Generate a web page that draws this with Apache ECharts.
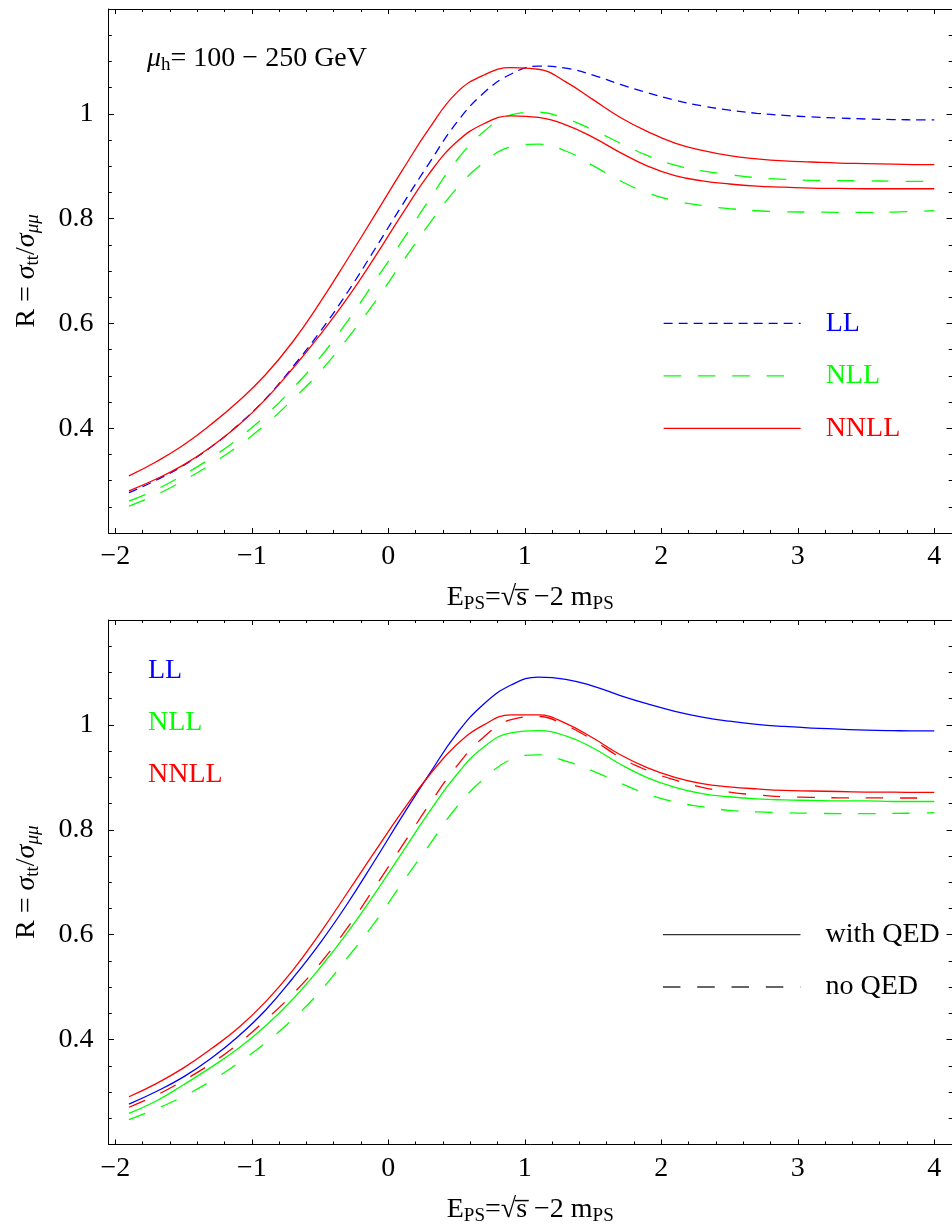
<!DOCTYPE html>
<html><head><meta charset="utf-8">
<script src="https://cdn.jsdelivr.net/npm/echarts@6/dist/echarts.min.js"></script>
<style>html,body{margin:0;padding:0;background:#fff}#c{width:952px;height:1227px}</style>
</head><body><div id="c"></div>
<script>
// ---- data ----
const energies = [-1.9,-1.7,-1.5,-1.3,-1.1,-0.9,-0.7,-0.5,-0.3,-0.1,0.1,0.3,0.5,0.7,0.9,1.1,1.3,1.5,1.7,1.9,2.1,2.3,2.5,2.7,2.9,3.1,3.3,3.5,3.7,3.9,4.0];

// LL (same curve in both panels)
const llValues = [0.277,0.301,0.329,0.364,0.406,0.456,0.517,0.584,0.659,0.741,0.825,0.906,0.983,1.040,1.076,1.091,1.087,1.074,1.056,1.040,1.026,1.015,1.007,1.001,0.997,0.994,0.992,0.990,0.989,0.9885,0.9885];

// top panel: mu_h = 100 - 250 GeV bands
const nllTopHigh  = [0.2608,0.283,0.311,0.343,0.380,0.424,0.476,0.535,0.604,0.680,0.757,0.836,0.911,0.966,0.998,1.003,0.991,0.969,0.944,0.920,0.902,0.891,0.884,0.878,0.875,0.873,0.8725,0.872,0.8715,0.871,0.871];
const nllTopLow   = [0.2512,0.273,0.300,0.331,0.366,0.407,0.455,0.508,0.571,0.640,0.716,0.790,0.857,0.907,0.937,0.942,0.929,0.901,0.872,0.849,0.834,0.825,0.819,0.815,0.813,0.8125,0.812,0.812,0.8125,0.814,0.815];
const nnllTopHigh = [0.309,0.336,0.368,0.407,0.451,0.502,0.565,0.640,0.722,0.806,0.891,0.972,1.040,1.074,1.088,1.085,1.061,1.027,0.993,0.966,0.944,0.930,0.920,0.914,0.910,0.908,0.906,0.905,0.904,0.903,0.903];
const nnllTopLow  = [0.2805,0.303,0.330,0.364,0.405,0.455,0.514,0.578,0.648,0.726,0.808,0.886,0.946,0.981,0.996,0.993,0.979,0.955,0.926,0.900,0.882,0.872,0.866,0.862,0.860,0.858,0.8575,0.857,0.857,0.857,0.857];

// bottom panel: with / without QED
const nllQed    = [0.2595,0.283,0.314,0.347,0.383,0.426,0.477,0.537,0.604,0.678,0.756,0.834,0.905,0.958,0.985,0.989,0.979,0.956,0.925,0.899,0.881,0.869,0.863,0.859,0.857,0.856,0.855,0.855,0.854,0.854,0.854];
const nllNoQed  = [0.2475,0.268,0.292,0.321,0.355,0.394,0.439,0.492,0.556,0.623,0.698,0.771,0.843,0.897,0.934,0.943,0.931,0.912,0.889,0.868,0.853,0.844,0.837,0.834,0.8325,0.8315,0.831,0.831,0.8312,0.832,0.8325];
const nnllQed   = [0.291,0.316,0.346,0.382,0.422,0.472,0.532,0.603,0.680,0.758,0.834,0.904,0.962,1.000,1.019,1.019,1.003,0.975,0.943,0.918,0.900,0.888,0.882,0.878,0.875,0.874,0.873,0.872,0.8717,0.8714,0.8714];
const nnllNoQed = [0.271,0.294,0.322,0.354,0.392,0.437,0.487,0.545,0.613,0.690,0.769,0.848,0.921,0.977,1.010,1.016,0.999,0.971,0.938,0.913,0.895,0.881,0.872,0.8665,0.863,0.862,0.861,0.861,0.8606,0.8606,0.8606];

// ticks
const xMajorTicks = [-2,-1,0,1,2,3,4];
const xMinorTicks = [-1.8,-1.6,-1.4,-1.2,-0.8,-0.6,-0.4,-0.2,0.2,0.4,0.6,0.8,1.2,1.4,1.6,1.8,2.2,2.4,2.6,2.8,3.2,3.4,3.6,3.8];
const yMajorTicks = [0.4,0.6,0.8,1];
const yMinorTicks = [0.25,0.3,0.35,0.45,0.5,0.55,0.65,0.7,0.75,0.85,0.9,0.95,1.05,1.1,1.15];
const xRange = [-2.05, 4.13];
const yRange = [0.2, 1.2];

// ---- styling ----
const FONT = "'Liberation Serif','Times New Roman',serif";
const BLUE = '#0000ff', GREEN = '#00ff00', RED = '#ff0000';
const SHORT_DASH = [9, 6];
const LONG_DASH = [17.5, 16.8];
const LW = 1.3;
const rich = {
  n:  {fontSize:28, fontFamily:FONT, color:'#000', lineHeight:32},
  i:  {fontSize:28, fontFamily:FONT, fontStyle:'italic', color:'#000', lineHeight:32},
  s:  {fontSize:19, fontFamily:FONT, color:'#000', lineHeight:16, verticalAlign:'bottom'},
  si: {fontSize:19, fontFamily:FONT, fontStyle:'italic', color:'#000', lineHeight:16, verticalAlign:'bottom'}
};
const xName = '{n|E}{s|PS}{n|=√s\u0305 −2 m}{s|PS}';
const yName = '{n|R = }{i|σ}{s|tt}{n|/}{i|σ}{si|μμ}';

const grids = [
  {left:108.5, top:9, width:847, height:524},
  {left:108.5, top:620, width:847, height:524.5}
];
const frameLine = {color:'#000', width:1};
const fmt = v => (v < 0 ? '−' + Math.abs(v) : String(v));

const xAxes = [], yAxes = [];
grids.forEach((g, gi) => {
  const baseX = {gridIndex:gi, type:'value', min:xRange[0], max:xRange[1], splitLine:{show:false}, silent:true};
  xAxes.push(Object.assign({}, baseX, {
    position:'bottom',
    axisLine:{show:true, onZero:false, lineStyle:frameLine},
    axisTick:{show:true, inside:true, length:5, customValues:xMajorTicks, lineStyle:frameLine},
    axisLabel:{show:true, customValues:xMajorTicks, formatter:fmt, margin:10, fontSize:28, fontFamily:FONT, color:'#000'},
    name:xName, nameLocation:'middle', nameGap:49, nameTextStyle:{rich:rich}
  }));
  xAxes.push(Object.assign({}, baseX, {
    position:'bottom', axisLine:{show:false, onZero:false},
    axisTick:{show:true, inside:true, length:3, customValues:xMinorTicks, lineStyle:frameLine},
    axisLabel:{show:false}
  }));
  xAxes.push(Object.assign({}, baseX, {
    position:'top', axisLine:{show:true, onZero:false, lineStyle:frameLine},
    axisTick:{show:true, inside:true, length:5, customValues:xMajorTicks, lineStyle:frameLine},
    axisLabel:{show:false}
  }));
  xAxes.push(Object.assign({}, baseX, {
    position:'top', axisLine:{show:false, onZero:false},
    axisTick:{show:true, inside:true, length:3, customValues:xMinorTicks, lineStyle:frameLine},
    axisLabel:{show:false}
  }));

  const baseY = {gridIndex:gi, type:'value', min:yRange[0], max:yRange[1], splitLine:{show:false}, silent:true};
  yAxes.push(Object.assign({}, baseY, {
    position:'left',
    axisLine:{show:true, onZero:false, lineStyle:frameLine},
    axisTick:{show:true, inside:true, length:5.5, customValues:yMajorTicks, lineStyle:frameLine},
    axisLabel:{show:true, customValues:yMajorTicks, formatter:fmt, margin:15, fontSize:28, fontFamily:FONT, color:'#000'},
    name:yName, nameLocation:'middle', nameGap:66, nameTextStyle:{rich:rich}
  }));
  yAxes.push(Object.assign({}, baseY, {
    position:'left', axisLine:{show:false, onZero:false},
    axisTick:{show:true, inside:true, length:3.3, customValues:yMinorTicks, lineStyle:frameLine},
    axisLabel:{show:false}
  }));
  yAxes.push(Object.assign({}, baseY, {
    position:'right', axisLine:{show:true, onZero:false, lineStyle:frameLine},
    axisTick:{show:true, inside:true, length:5.5, customValues:yMajorTicks, lineStyle:frameLine},
    axisLabel:{show:false}
  }));
  yAxes.push(Object.assign({}, baseY, {
    position:'right', axisLine:{show:false, onZero:false},
    axisTick:{show:true, inside:true, length:3.3, customValues:yMinorTicks, lineStyle:frameLine},
    axisLabel:{show:false}
  }));
});

function curve(name, gi, values, color, dash) {
  return {
    type:'line', name:name, xAxisIndex:gi*4, yAxisIndex:gi*4,
    data: values ? energies.map((e, k) => [e, values[k]]) : [],
    symbol:'none', showSymbol:false, smooth:0.45,
    lineStyle:{color:color, width:LW, type:dash || 'solid'},
    itemStyle:{color:color}, silent:true, animation:false
  };
}

const series = [
  // top panel
  curve('LL',   0, llValues,    BLUE,  SHORT_DASH),
  curve('NLL',  0, nllTopHigh,  GREEN, LONG_DASH),
  curve('NLL',  0, nllTopLow,   GREEN, LONG_DASH),
  curve('NNLL', 0, nnllTopHigh, RED),
  curve('NNLL', 0, nnllTopLow,  RED),
  // bottom panel
  curve('LL',   1, llValues,    BLUE),
  curve('NLL',  1, nllQed,      GREEN),
  curve('NLL',  1, nllNoQed,    GREEN, LONG_DASH),
  curve('NNLL', 1, nnllQed,     RED),
  curve('NNLL', 1, nnllNoQed,   RED,   LONG_DASH),
  curve('with QED', 1, null, '#333'),
  curve('no QED',   1, null, '#333', LONG_DASH)
];

const legendText = {fontSize:28, fontFamily:FONT, lineHeight:30};
const option = {
  animation:false,
  backgroundColor:'#fff',
  textStyle:{fontFamily:FONT},
  grid: grids,
  xAxis: xAxes,
  yAxis: yAxes,
  title: {
    text:'{i|μ}{s|h}{n|= 100 − 250 GeV}',
    left:147, top:43, padding:0,
    textStyle:{rich:rich, fontWeight:'normal'}
  },
  legend: [
    {
      orient:'vertical', left:663, top:308.3, padding:0,
      itemWidth:137, itemHeight:14, itemGap:22.5, selectedMode:false,
      itemStyle:{opacity:0}, lineStyle:{width:LW},
      textStyle:Object.assign({padding:[0,0,0,20]}, legendText),
      data:[
        {name:'LL',   textStyle:{color:BLUE}},
        {name:'NLL',  textStyle:{color:GREEN}},
        {name:'NNLL', textStyle:{color:RED}}
      ]
    },
    {
      orient:'vertical', left:143, top:655.7, padding:0,
      itemWidth:0, itemHeight:0, itemGap:22.2, selectedMode:false,
      itemStyle:{opacity:0}, lineStyle:{width:0},
      textStyle:legendText,
      data:[
        {name:'LL',   textStyle:{color:BLUE}},
        {name:'NLL',  textStyle:{color:GREEN}},
        {name:'NNLL', textStyle:{color:RED}}
      ]
    },
    {
      orient:'vertical', left:662.3, top:919.7, padding:0,
      itemWidth:137.5, itemHeight:14, itemGap:22.3, selectedMode:false,
      itemStyle:{opacity:0}, lineStyle:{width:LW},
      textStyle:Object.assign({padding:[0,0,0,20], color:'#000'}, legendText),
      data:['with QED','no QED']
    }
  ],
  series: series
};

const chart = echarts.init(document.getElementById('c'), null, {renderer:'canvas', width:952, height:1227});
chart.setOption(option);
</script>
</body></html>
